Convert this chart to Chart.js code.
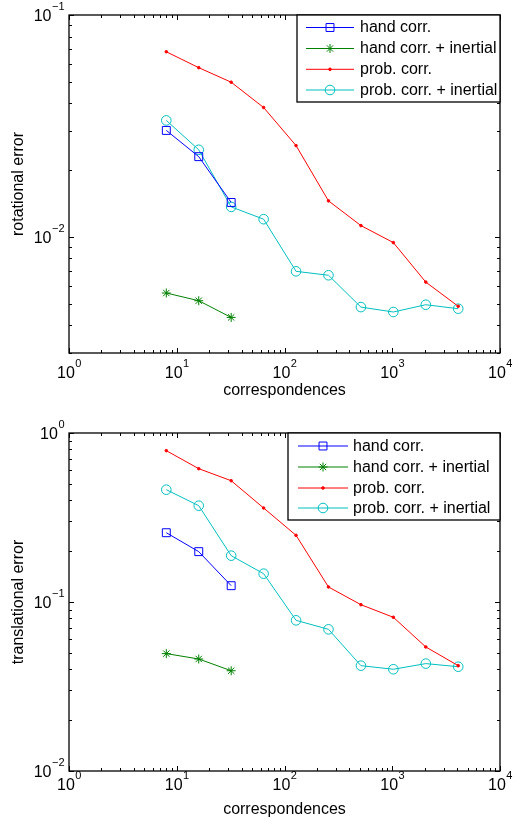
<!DOCTYPE html>
<html><head><meta charset="utf-8">
<script src="https://cdn.jsdelivr.net/npm/chart.js@4"></script>
<style>
html,body{margin:0;padding:0;background:#fff;}
#wrap{position:relative;width:514px;height:820px;background:#fff;}
.c{position:absolute;left:0;width:514px;height:410px;}
</style></head><body>
<div id="wrap">
<div class="c" style="top:0"><canvas id="rot" width="514" height="410"></canvas></div>
<div class="c" style="top:410px"><canvas id="trans" width="514" height="410"></canvas></div>
</div>
<script>
// ---- data ----
const handX = [8, 16, 32];
const probX = [8, 16, 32, 64, 128, 256, 512, 1024, 2048, 4096];
const seriesNames = ['hand corr.', 'hand corr. + inertial', 'prob. corr.', 'prob. corr. + inertial'];

const rotHand = [0.0302, 0.0230, 0.0143];
const rotHandInertial = [0.00559, 0.00516, 0.00434];
const rotProb = [0.0683, 0.0579, 0.0498, 0.0383, 0.0258, 0.01454, 0.01125, 0.00943, 0.00626, 0.00487];
const rotProbInertial = [0.0335, 0.0247, 0.01366, 0.01202, 0.0070, 0.00672, 0.00483, 0.00459, 0.00495, 0.00475];

const transHand = [0.257, 0.1986, 0.1249];
const transHandInertial = [0.0495, 0.046, 0.0392];
const transProb = [0.786, 0.615, 0.522, 0.360, 0.248, 0.1227, 0.0964, 0.0812, 0.0542, 0.0420];
const transProbInertial = [0.462, 0.3715, 0.188, 0.1471, 0.0779, 0.0689, 0.0420, 0.0400, 0.0432, 0.0414];

const xTickExps = [0, 1, 2, 3, 4];
const rotYTickExps = [-2, -1];
const transYTickExps = [-2, -1, 0];
const xTitle = 'correspondences';
const rotYTitle = 'rotational error';
const transYTitle = 'translational error';

// ---- drawing helpers ----
const FONT = '"Liberation Sans", Arial, Helvetica, sans-serif';
const BASE_PX = 16, SUP_PX = 11;

function zip(xs, ys) { return xs.map((x, i) => ({x: x, y: ys[i]})); }

function powLabel(ctx, exp, x, y, align) {
  const base = '10';
  const sup = exp < 0 ? '\u2212' + (-exp) : String(exp);
  ctx.font = BASE_PX + 'px ' + FONT;
  const wb = ctx.measureText(base).width;
  ctx.font = SUP_PX + 'px ' + FONT;
  const ws = ctx.measureText(sup).width;
  const x0 = align === 'center' ? x - (wb + ws) / 2 : x - (wb + ws);
  ctx.textAlign = 'left';
  ctx.textBaseline = 'alphabetic';
  ctx.fillStyle = '#000';
  ctx.font = BASE_PX + 'px ' + FONT;
  ctx.fillText(base, x0, y);
  ctx.font = SUP_PX + 'px ' + FONT;
  ctx.fillText(sup, x0 + wb + 0.5, y - 11);
}

const matlabAxes = {
  id: 'matlabAxes',
  afterDatasetsDraw(chart, args, opts) {
    const ctx = chart.ctx, a = chart.chartArea;
    const xs = chart.scales.x, ys = chart.scales.y;
    ctx.save();
    ctx.strokeStyle = '#000';
    ctx.lineWidth = 1;
    // ticks inward on all 4 sides
    const major = 5, minor = 3;
    function xTick(v, len) {
      const px = Math.round(xs.getPixelForValue(v)) + 0.5;
      ctx.beginPath();
      ctx.moveTo(px, a.bottom); ctx.lineTo(px, a.bottom - len);
      ctx.moveTo(px, a.top); ctx.lineTo(px, a.top + len);
      ctx.stroke();
    }
    function yTick(v, len) {
      const py = Math.round(ys.getPixelForValue(v)) + 0.5;
      ctx.beginPath();
      ctx.moveTo(a.left, py); ctx.lineTo(a.left + len, py);
      ctx.moveTo(a.right, py); ctx.lineTo(a.right - len, py);
      ctx.stroke();
    }
    for (let d = Math.floor(Math.log10(xs.min)); d <= Math.ceil(Math.log10(xs.max)); d++) {
      for (let k = 1; k <= 9; k++) {
        const v = k * Math.pow(10, d);
        if (v < xs.min * 0.999 || v > xs.max * 1.001) continue;
        xTick(v, k === 1 ? major : minor);
      }
    }
    for (let d = Math.floor(Math.log10(ys.min)); d <= Math.ceil(Math.log10(ys.max)); d++) {
      for (let k = 1; k <= 9; k++) {
        const v = k * Math.pow(10, d);
        if (v < ys.min * 0.999 || v > ys.max * 1.001) continue;
        yTick(v, k === 1 ? major : minor);
      }
    }
    // box
    ctx.lineWidth = 1.3;
    ctx.strokeRect(a.left, a.top, a.right - a.left, a.bottom - a.top);
    // tick labels
    opts.xExps.forEach(e => powLabel(ctx, e, xs.getPixelForValue(Math.pow(10, e)), a.bottom + opts.xLabelOff, 'center'));
    opts.yExps.forEach(e => powLabel(ctx, e, a.left - 5, ys.getPixelForValue(Math.pow(10, e)) + 5.7, 'right'));
    // titles
    ctx.fillStyle = '#000';
    ctx.font = BASE_PX + 'px ' + FONT;
    ctx.textAlign = 'center';
    ctx.textBaseline = 'middle';
    ctx.fillText(opts.xTitle, (a.left + a.right) / 2, a.bottom + opts.xTitleOff);
    ctx.save();
    ctx.translate(19, (a.top + a.bottom) / 2 + opts.yTitleShift);
    ctx.rotate(-Math.PI / 2);
    ctx.fillText(opts.yTitle, 0, 0);
    ctx.restore();
    // legend
    const L = opts.legend;
    const bx = a.right - L.w, by = a.top;
    ctx.fillStyle = '#fff';
    ctx.fillRect(bx, by, L.w, L.h);
    ctx.lineWidth = 1.3;
    ctx.strokeStyle = '#000';
    ctx.strokeRect(bx, by, L.w, L.h);
    chart.data.datasets.forEach((ds, i) => {
      const y = by + L.rows[i];
      ctx.strokeStyle = ds.borderColor;
      ctx.lineWidth = 1;
      ctx.beginPath();
      ctx.moveTo(bx + L.line0, y); ctx.lineTo(bx + L.line1, y);
      ctx.stroke();
      ctx.fillStyle = ds.pointBackgroundColor;
      ctx.strokeStyle = ds.pointBorderColor;
      Chart.helpers.drawPoint(ctx, {pointStyle: ds.pointStyle, radius: ds.pointRadius, rotation: 0, borderWidth: 1}, bx + (L.line0 + L.line1) / 2, y);
      ctx.fillStyle = '#000';
      ctx.font = BASE_PX + 'px ' + FONT;
      ctx.textAlign = 'left';
      ctx.textBaseline = 'middle';
      ctx.fillText(ds.label, bx + L.text, y + 0.5);
    });
    ctx.restore();
  }
};

function makeDatasets(hand, handIn, prob, probIn) {
  return [
    {label: seriesNames[0], data: zip(handX, hand), borderColor: '#0000ff', pointBorderColor: '#0000ff', pointBackgroundColor: 'rgba(0,0,0,0)', pointStyle: 'rect', pointRadius: 5.6, borderWidth: 1, pointBorderWidth: 1},
    {label: seriesNames[1], data: zip(handX, handIn), borderColor: '#008000', pointBorderColor: '#008000', pointBackgroundColor: 'rgba(0,0,0,0)', pointStyle: 'star', pointRadius: 4.5, borderWidth: 1, pointBorderWidth: 1},
    {label: seriesNames[2], data: zip(probX, prob), borderColor: '#ff0000', pointBorderColor: '#ff0000', pointBackgroundColor: '#ff0000', pointStyle: 'circle', pointRadius: 1.3, borderWidth: 1, pointBorderWidth: 1},
    {label: seriesNames[3], data: zip(probX, probIn), borderColor: '#00bfbf', pointBorderColor: '#00bfbf', pointBackgroundColor: 'rgba(0,0,0,0)', pointStyle: 'circle', pointRadius: 4.8, borderWidth: 1, pointBorderWidth: 1}
  ];
}

function makeChart(id, datasets, ymin, ymax, pad, axOpts) {
  return new Chart(document.getElementById(id), {
    type: 'line',
    data: {datasets: datasets},
    options: {
      responsive: false,
      animation: false,
      devicePixelRatio: 1,
      layout: {padding: pad},
      elements: {line: {tension: 0}},
      plugins: {legend: {display: false}, tooltip: {enabled: false}, matlabAxes: axOpts},
      scales: {
        x: {type: 'logarithmic', min: 1, max: 10000, display: false},
        y: {type: 'logarithmic', min: ymin, max: ymax, display: false}
      }
    },
    plugins: [matlabAxes]
  });
}

makeChart('rot', makeDatasets(rotHand, rotHandInertial, rotProb, rotProbInertial), 0.003, 0.1,
  {left: 69, right: 14, top: 15, bottom: 57},
  {xExps: xTickExps, yExps: rotYTickExps, xTitle: xTitle, yTitle: rotYTitle, xLabelOff: 24.7, xTitleOff: 38, yTitleShift: 0,
   legend: {w: 203, h: 87, rows: [12.5, 33.5, 54.3, 75], line0: 9, line1: 57, text: 63}});

makeChart('trans', makeDatasets(transHand, transHandInertial, transProb, transProbInertial), 0.01, 1,
  {left: 69, right: 14, top: 23, bottom: 49},
  {xExps: xTickExps, yExps: transYTickExps, xTitle: xTitle, yTitle: transYTitle, xLabelOff: 19.3, xTitleOff: 38.3, yTitleShift: 0,
   legend: {w: 212, h: 87, rows: [13, 34, 55, 75], line0: 10, line1: 60, text: 65}});
</script>
</body></html>
